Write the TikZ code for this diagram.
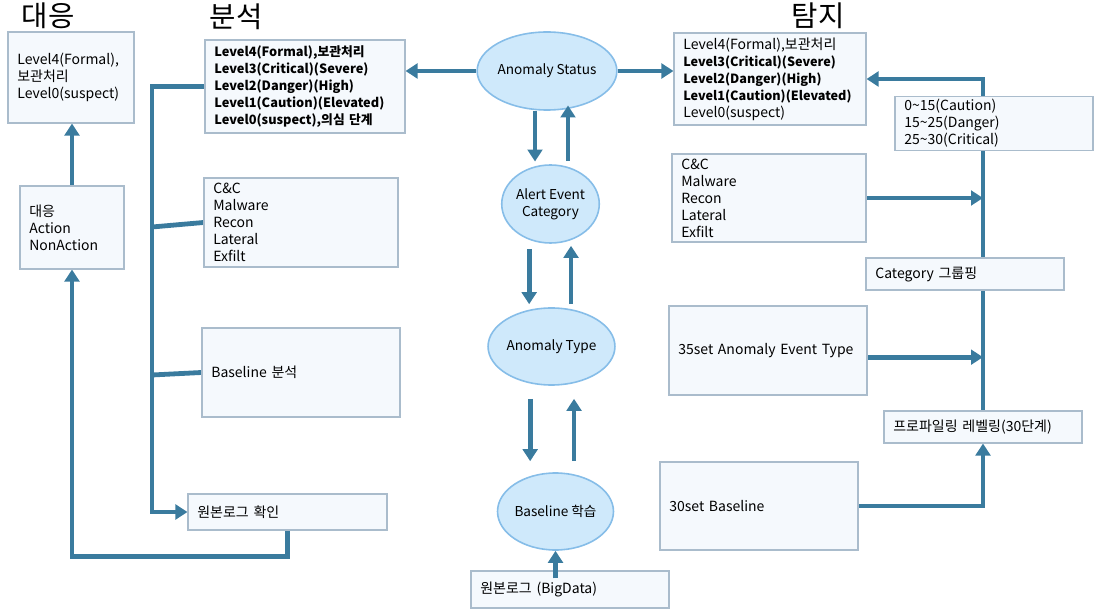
\documentclass[tikz,border=0pt]{standalone}
\usepackage{fontspec}
\setmainfont{Noto Sans CJK KR}
\usetikzlibrary{arrows.meta,shapes.geometric,backgrounds}
\definecolor{flow}{RGB}{58,123,158}
\definecolor{boxfill}{RGB}{245,249,253}
\definecolor{boxline}{RGB}{170,188,204}
\definecolor{ovalfill}{RGB}{207,233,251}
\definecolor{ovalline}{RGB}{134,189,232}
\newcommand{\strongline}[1]{{\fontsize{9.5}{12.75}\selectfont\bfseries #1}}

\begin{document}
\begin{tikzpicture}[x=0.75pt,y=-0.75pt]
\tikzstyle{box}=[draw=boxline,fill=boxfill,line width=0.8pt,inner xsep=7pt,inner ysep=2pt,align=left,font=\fontsize{10.5}{12.75}\selectfont]
\tikzstyle{oval}=[draw=ovalline,fill=ovalfill,line width=1.2pt,ellipse,inner sep=0pt,align=center,font=\fontsize{10.2}{12.5}\selectfont]
\tikzstyle{title}=[font=\fontsize{21.5}{24}\selectfont]
\tikzstyle{link}=[draw=flow,line width=3.6pt]
\tikzstyle{arr}=[link,-{Triangle[length=9pt,width=11pt]}]
\useasboundingbox (0,0) rectangle (1103,616);

% titles
\node[title] (tresp) at (48,16) {대응};
\node[title] (tana) at (236,17) {분석};
\node[title] (tdet) at (818,16) {탐지};

% response
\node[box,text width=80.5pt,minimum height=68.25pt] (resp) at (71,77.5) {Level4(Formal),\\보관처리\\Level0(suspect)};
\node[box,text width=64pt,minimum height=62.25pt] (act) at (72,227.5) {대응\\Action\\NonAction};

% analysis
\node[box,text width=136pt,minimum height=69.75pt,font=\fontsize{9.6}{12.75}\selectfont\bfseries] (ana) at (305,86.5)
  {Level4(Formal),보관처리\\Level3(Critical)(Severe)\\Level2(Danger)(High)\\Level1(Caution)(Elevated)\\Level0(suspect),의심 단계};
\node[box,text width=131.5pt,minimum height=66.75pt] (anacat) at (301,222.5) {C\&C\\Malware\\Recon\\Lateral\\Exfilt};
\node[box,text width=134.5pt,minimum height=66.75pt] (anabase) at (301,372.5) {Baseline 분석};
\node[box,text width=135.25pt,minimum height=27pt] (rawchk) at (287.5,512) {원본로그 확인};

% middle
\node[oval,minimum width=87pt,minimum height=58.5pt] (status) at (547,71) {Anomaly Status};
\node[oval,minimum width=66.75pt,minimum height=58.5pt] (alert) at (550.5,204) {Alert Event\\Category};
\node[oval,minimum width=68.25pt,minimum height=57.75pt] (type) at (551.5,346.5) {Anomaly Type};
\node[oval,minimum width=66.75pt,minimum height=57.75pt] (blearn) at (555.5,511.5) {Baseline 학습};
\node[box,text width=134.5pt,minimum height=27.75pt] (bigdata) at (570,589.5) {원본로그 (BigData)};

% detection
\node[box,text width=130pt,minimum height=69pt] (det) at (770,79)
  {Level4(Formal),보관처리\\\strongline{Level3(Critical)(Severe)}\\\strongline{Level2(Danger)(High)}\\\strongline{Level1(Caution)(Elevated)}\\Level0(suspect)};
\node[box,text width=134.5pt,minimum height=38.25pt] (thr) at (994,123.5)
  {0\textasciitilde 15(Caution)\\15\textasciitilde 25(Danger)\\25\textasciitilde 30(Critical)};
\node[box,text width=131.5pt,minimum height=66pt] (detcat) at (769,198) {C\&C\\Malware\\Recon\\Lateral\\Exfilt};
\node[box,text width=134.5pt,minimum height=24pt] (catgrp) at (965,274) {Category 그룹핑};
\node[box,text width=134.5pt,minimum height=66.75pt] (evt) at (768,350.5) {35set Anomaly Event Type};
\node[box,text width=134.5pt,minimum height=24pt] (prof) at (983,427) {프로파일링 레벨링(30단계)};
\node[box,text width=134.5pt,minimum height=66pt] (base30) at (759,506) {30set Baseline};

\coordinate (ltrunk) at (152,512);
\coordinate (lb1) at (152,227);
\coordinate (lb2) at (152,375);
\coordinate (rx) at (983,0);

\begin{scope}[on background layer]
\draw[arr] (status.west) -- (ana.east |- status.west);
\draw[arr] (status.east) -- (det.west |- status.east);
\draw[arr] (ana.west) -| (ltrunk) -- (rawchk.west);
\draw[link] (lb1) -- (anacat.west);
\draw[link] (lb2) -- (anabase.west);
\draw[arr] (rawchk.south) -- ++(0,26) -| (act.south);
\draw[arr] (act.north) -- (act.north |- resp.south);
\draw[arr] (catgrp.north -| rx) |- (det.east);
\draw[link] (catgrp.south -| rx) -- (prof.north);
\draw[arr] (detcat.east) -- (detcat.east -| rx);
\draw[arr] ([yshift=-5pt]evt.east) -- ([yshift=-5pt]evt.east -| rx);
\draw[arr] (base30.east) -| (prof.south);
\end{scope}

% between the ovals
\draw[arr,shorten >=2pt] ([xshift=-9pt]status.south) -- ([xshift=-9pt]status.south |- alert.north);
\draw[arr,shorten <=2.25pt,shorten >=-4pt] ([xshift=15.75pt]status.south |- alert.north) -- ([xshift=15.75pt]status.south);
\draw[arr,shorten <=3.75pt,shorten >=2.25pt] ([xshift=-16pt]alert.south) -- ([xshift=-16pt]alert.south |- type.north);
\draw[arr,shorten <=2.25pt,shorten >=1.5pt] ([xshift=15.4pt]alert.south |- type.north) -- ([xshift=15.4pt]alert.south);
\draw[arr,shorten <=9.75pt,shorten >=8.25pt] ([xshift=-16pt]type.south) -- ([xshift=-16pt]type.south |- blearn.north);
\draw[arr,shorten <=8.25pt,shorten >=9.75pt] ([xshift=16.9pt]type.south |- blearn.north) -- ([xshift=16.9pt]type.south);
\draw[arr,shorten <=-6pt] (blearn.south |- bigdata.north) -- (blearn.south);
\end{tikzpicture}
\end{document}
